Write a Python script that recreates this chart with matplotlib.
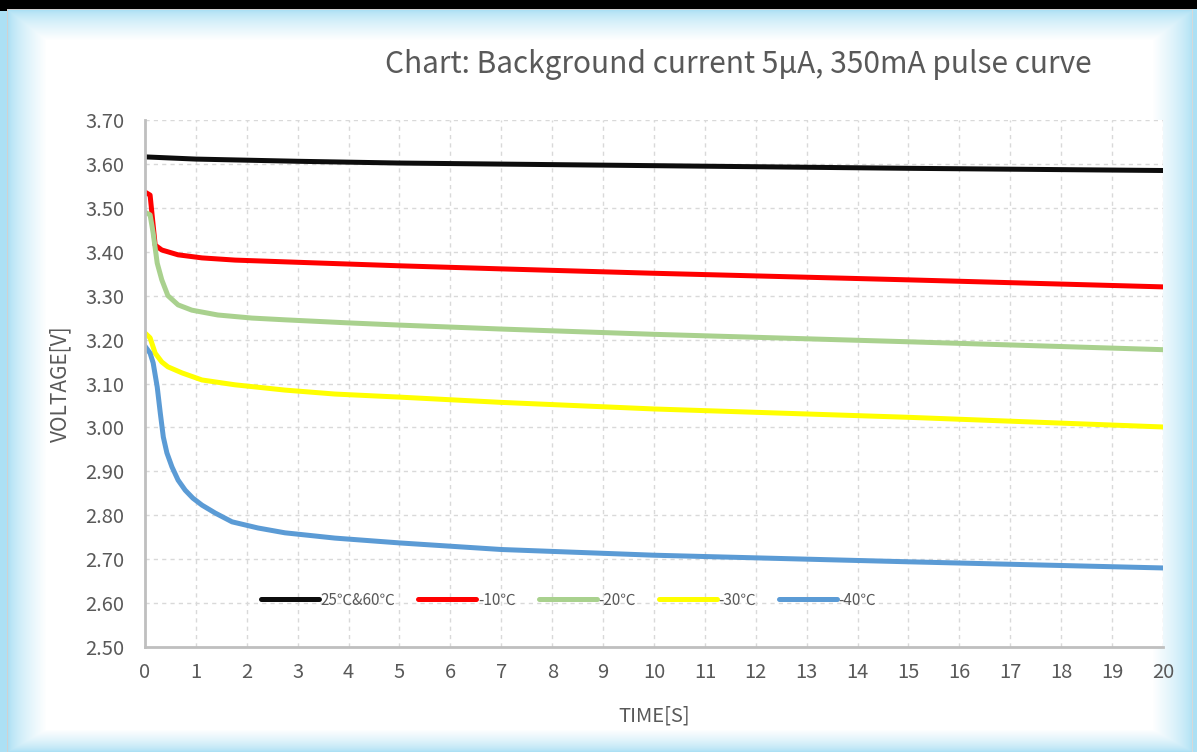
import numpy as np
import matplotlib.pyplot as plt

# ----------------------------------
# Data
# ----------------------------------
t_black = [0, 1, 3, 5, 10, 15, 20]
v_black = [3.616, 3.611, 3.606, 3.602, 3.596, 3.590, 3.585]

t_red = [0, 0.1, 0.2, 0.33, 0.65, 1.12, 1.77, 2.75, 5, 7, 10, 15, 20]
v_red = [3.536, 3.529, 3.415, 3.404, 3.393, 3.386, 3.381, 3.377, 3.368, 3.361, 3.351, 3.336, 3.320]

t_green = [0, 0.1, 0.16, 0.24, 0.33, 0.45, 0.65, 0.92, 1.43, 2.1, 2.75, 4, 5, 7, 10, 15, 20]
v_green = [3.490, 3.484, 3.443, 3.374, 3.336, 3.300, 3.279, 3.267, 3.256, 3.249, 3.245, 3.238, 3.233, 3.224, 3.212, 3.195, 3.177]

t_yellow = [0, 0.1, 0.2, 0.33, 0.45, 0.73, 1.12, 1.77, 2.75, 3.73, 5, 7, 10, 15, 20]
v_yellow = [3.215, 3.204, 3.169, 3.149, 3.138, 3.124, 3.108, 3.097, 3.085, 3.076, 3.069, 3.057, 3.042, 3.023, 3.001]

t_blue = [0, 0.1, 0.16, 0.24, 0.3, 0.36, 0.43, 0.53, 0.65, 0.79, 0.94, 1.12, 1.38, 1.71, 2.22, 2.75, 3.73, 5, 7, 10, 15, 20]
v_blue = [3.185, 3.169, 3.147, 3.092, 3.033, 2.978, 2.942, 2.910, 2.880, 2.857, 2.839, 2.823, 2.805, 2.785, 2.771, 2.760, 2.748, 2.737, 2.722, 2.709, 2.694, 2.680]

series = [
    (t_black, v_black, '25℃&60℃', '#0D0D0D'),
    (t_red, v_red, '-10℃', '#FF0000'),
    (t_green, v_green, '-20℃', '#A9D18E'),
    (t_yellow, v_yellow, '-30℃', '#FFFF00'),
    (t_blue, v_blue, '-40℃', '#5B9BD5'),
]

x_ticks = list(range(0, 21))
y_ticks = [2.50, 2.60, 2.70, 2.80, 2.90, 3.00, 3.10, 3.20, 3.30, 3.40, 3.50, 3.60, 3.70]

plt.rcParams['font.family'] = ['Noto Sans CJK SC', 'DejaVu Sans']
grey = '#595959'

W, H = 1197, 752
fig = plt.figure(figsize=(W / 100, H / 100), dpi=100)

# ----------------------------------
# Background: black bar + light blue frame gradient
# ----------------------------------
yy, xx = np.mgrid[0:H, 0:W]
d = np.minimum.reduce([(xx - 8) / 38.0, (1192 - xx) / 40.0, (yy - 10) / 30.0, (751 - yy) / 22.0])
tt = np.clip(d, 0, 1) ** 0.7
blue = np.array([172, 224, 244]) / 255.0
img = blue[None, None, :] * (1 - tt[..., None]) + tt[..., None]
img[:9, :, :] = 0.0
img[:11, :8, :] = 0.0
img[9:, 7, :] = 0.82
img[9, 7:1193, :] = 0.82
img[9:, 1192, :] = 0.85

bg = fig.add_axes([0, 0, 1, 1], zorder=-10)
bg.imshow(img, extent=[0, W, H, 0], aspect='auto', interpolation='bilinear')
bg.axis('off')

# ----------------------------------
# Main plot
# ----------------------------------
ax = fig.add_axes([145 / W, 1 - 647 / H, (1163 - 145) / W, (647 - 120) / H])
ax.set_facecolor('white')
for t, v, lab, col in series:
    ax.plot(t, v, color=col, lw=3.6, label=lab, solid_capstyle='round', solid_joinstyle='round')

ax.set_xlim(0, 20)
ax.set_ylim(2.50, 3.70)
ax.set_xticks(x_ticks)
ax.set_yticks(y_ticks)
ax.set_yticklabels([f'{y:.2f}' for y in y_ticks])
ax.tick_params(length=0, labelsize=14.5, colors=grey)
ax.tick_params(axis='y', pad=15)
ax.tick_params(axis='x', pad=11)
ax.grid(True, color='#D9D9D9', linestyle=(0, (3, 3)), lw=1)
ax.set_axisbelow(True)
for s in ['top', 'right']:
    ax.spines[s].set_visible(False)
for s in ['left', 'bottom']:
    ax.spines[s].set_color('#BFBFBF')
    ax.spines[s].set_linewidth(2)

ax.set_xlabel('TIME[S]', fontsize=14.5, color=grey, labelpad=16)
ax.set_ylabel('VOLTAGE[V]', fontsize=15, color=grey, labelpad=10)

leg = ax.legend(loc='center', bbox_to_anchor=(0.416, 0.089), ncol=5, frameon=False,
                fontsize=11, handlelength=3.8, handletextpad=0.1, columnspacing=1.5)
for txt in leg.get_texts():
    txt.set_color(grey)

fig.text(738 / W, 1 - 65 / H, 'Chart: Background current 5μA, 350mA pulse curve',
         ha='center', va='center', fontsize=21.5, color=grey)

fig.savefig('out.png', dpi=100)
